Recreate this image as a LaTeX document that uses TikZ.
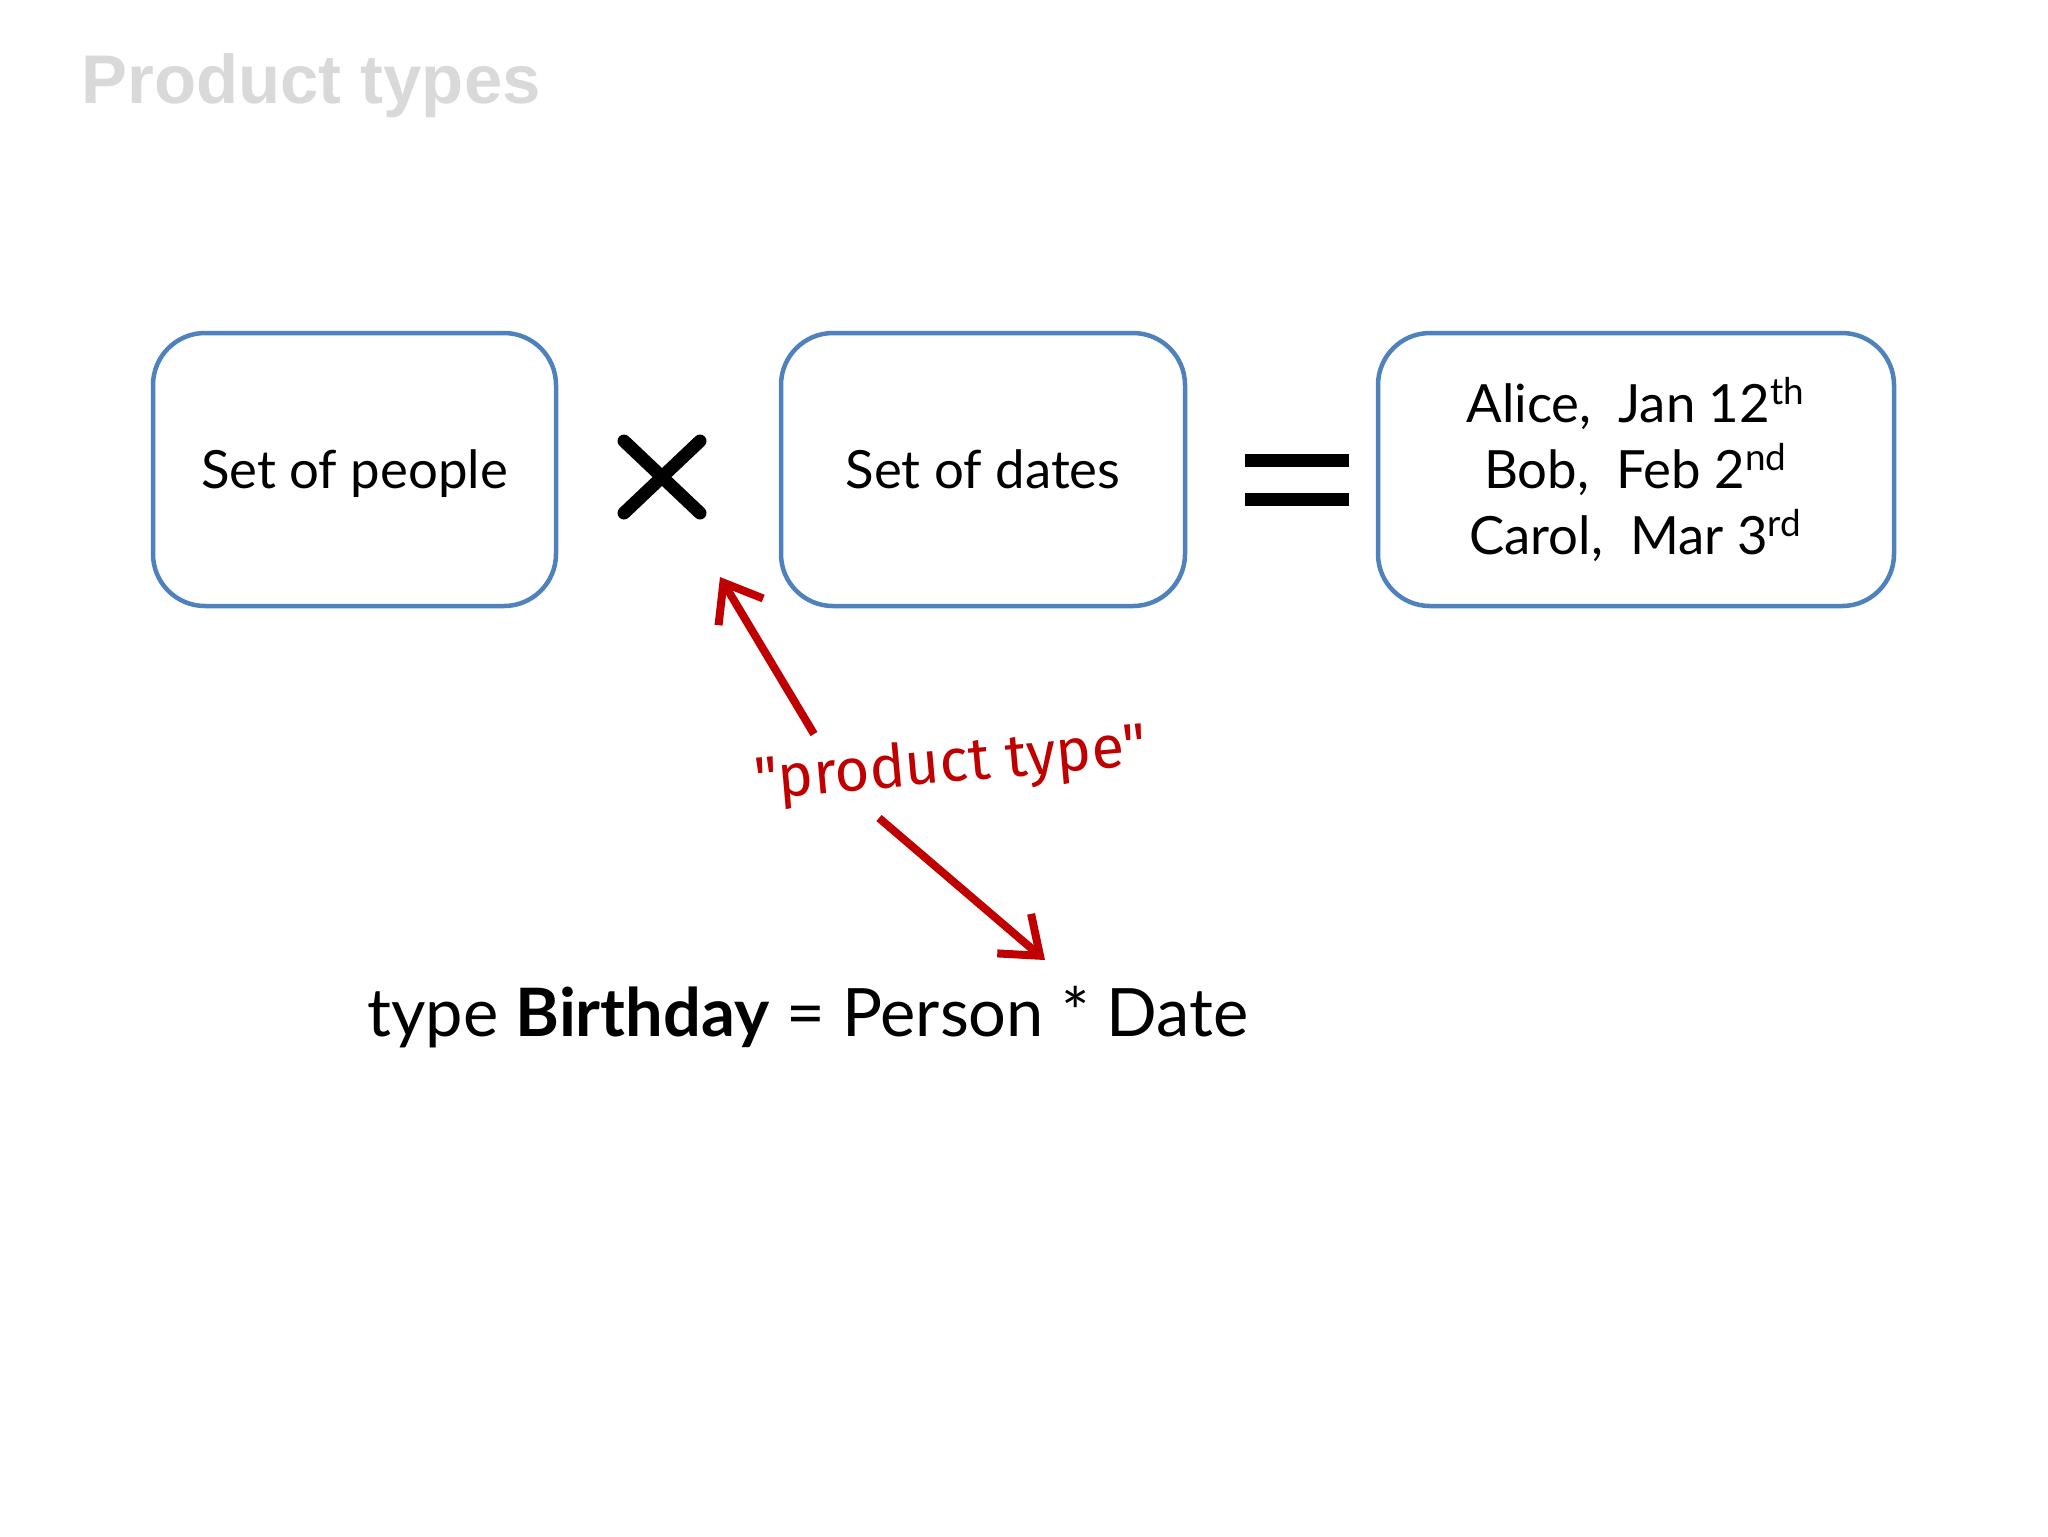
\documentclass[tikz,border=0pt]{standalone}
\usepackage{fontspec}
\setmainfont{Lato}
\newfontfamily\titlefont{Liberation Sans}
\newfontfamily\handfont{Fira Sans}
\usetikzlibrary{arrows.meta}
\definecolor{boxblue}{RGB}{79,129,189}
\definecolor{notered}{RGB}{192,0,0}
\definecolor{titlegray}{RGB}{217,217,217}

\begin{document}
\begin{tikzpicture}[
    x=0.1mm, y=-0.1mm,
    setbox/.style={
        rectangle,
        rounded corners=5.2mm,
        minimum height=27.3mm,
        line width=0.45mm,
        draw=boxblue,
        fill=white,
        align=center,
        font=\fontsize{15}{18.8}\selectfont
    },
    oneline/.style={
        text depth=0pt
    },
    opmark/.style={
        line width=1.3mm,
        black
    },
    notearrow/.style={
        -{Straight Barb[length=3.4mm, width=5.2mm]},
        line width=0.8mm,
        notered
    }
]
\useasboundingbox (0,0) rectangle (2048,1536);

% Title
\node[anchor=west, text=titlegray, font=\titlefont\bfseries\fontsize{19.6}{24}\selectfont] (title) at (69,86) {Product types};

% Sets
\node[setbox, oneline, minimum width=40.3mm] (people) at (354.5,469.5) {Set of people};
\node[setbox, oneline, minimum width=40.4mm] (dates) at (983,469.5) {Set of dates};
\node[setbox, minimum width=51.6mm] (pairs) at (1636,469.5) {Alice,~ Jan 12\textsuperscript{th}\\Bob,~ Feb 2\textsuperscript{nd}\\Carol,~ Mar 3\textsuperscript{rd}};

% Operators
\coordinate (times) at (662,477);
\draw[opmark, line cap=round] (624,441) -- (700,513) (624,513) -- (700,441);
\draw[opmark] (1245,460) -- (1349,460) (1245,499) -- (1349,499);

% Annotation
\node[rotate=5, text=notered, font=\handfont\fontsize{17}{20}\selectfont] (ptype) at (951,766) {"product type"};
\coordinate (tail1) at (814,734);
\coordinate (head1) at (720,577);
\coordinate (tail2) at (879,818);
\coordinate (head2) at (1045,960);
\draw[notearrow] (tail1) -- (head1);
\draw[notearrow] (tail2) -- (head2);

% Definition
\node[anchor=west, font=\fontsize{19}{23}\selectfont] (birthday) at (355,1017) {type \textbf{Birthday} = Person * Date};

\end{tikzpicture}
\end{document}
